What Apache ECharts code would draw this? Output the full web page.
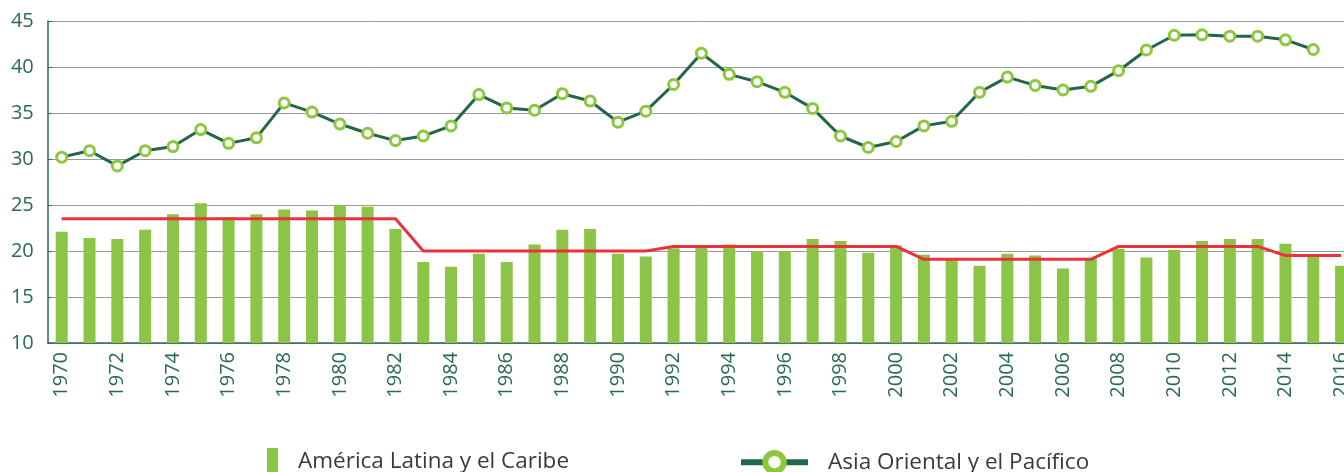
<!DOCTYPE html>
<html>
<head>
<meta charset="utf-8">
<script src="https://cdn.jsdelivr.net/npm/echarts@6/dist/echarts.min.js"></script>
<style>
  html, body { margin: 0; padding: 0; background: #fff; overflow: hidden; }
  /* a bit wider than the window: the last band (2016) is cut at the right edge */
  #chart { width: 1355px; height: 472px; }
</style>
</head>
<body>
<div id="chart"></div>
<script>
  const years = [];
  for (let y = 1970; y <= 2016; y++) years.push(String(y));

  // América Latina y el Caribe (barras)
  const latamValues = [
    22.1, 21.4, 21.3, 22.3, 24.0, 25.2, 23.7, 24.0, 24.5, 24.4,
    25.0, 24.8, 22.4, 18.8, 18.3, 19.7, 18.8, 20.7, 22.3, 22.4,
    19.7, 19.4, 20.3, 20.5, 20.7, 20.0, 20.0, 21.3, 21.1, 19.8,
    20.6, 19.6, 19.2, 18.4, 19.7, 19.5, 18.1, 19.2, 20.25, 19.3,
    20.1, 21.1, 21.3, 21.3, 20.8, 19.4, 18.4
  ];
  // Asia Oriental y el Pacífico (línea)
  const asiaValues = [
    30.2, 30.9, 29.25, 30.9, 31.35, 33.2, 31.7, 32.3, 36.1, 35.1,
    33.8, 32.8, 32.0, 32.5, 33.6, 37.0, 35.55, 35.3, 37.1, 36.3,
    34.0, 35.2, 38.1, 41.5, 39.2, 38.4, 37.25, 35.5, 32.5, 31.25,
    31.9, 33.6, 34.1, 37.25, 38.9, 38.0, 37.5, 37.9, 39.6, 41.85,
    43.45, 43.5, 43.35, 43.35, 42.95, 41.9, null
  ];
  // promedio por período (línea roja)
  const periodAvg = [
    23.5, 23.5, 23.5, 23.5, 23.5, 23.5, 23.5, 23.5, 23.5, 23.5,
    23.5, 23.5, 23.5, 20.0, 20.0, 20.0, 20.0, 20.0, 20.0, 20.0,
    20.0, 20.0, 20.5, 20.5, 20.5, 20.5, 20.5, 20.5, 20.5, 20.5,
    20.5, 19.1, 19.1, 19.1, 19.1, 19.1, 19.1, 19.1, 20.5, 20.5,
    20.5, 20.5, 20.5, 20.5, 19.5, 19.5, 19.5
  ];

  const axisGreen = '#2a6b50';
  const font = 'Open Sans';

  const chart = echarts.init(document.getElementById('chart'));
  chart.setOption({
    animation: false,
    textStyle: { fontFamily: font },
    grid: { left: 47.8, right: 0, top: 21, bottom: 129, containLabel: false },
    legend: [
      {
        data: ['América Latina y el Caribe'],
        left: 262, top: 443,
        icon: 'rect', itemWidth: 11, itemHeight: 27,
        textStyle: { fontSize: 22.5, color: '#3a3a3a', fontFamily: font, padding: [0, 0, 0, 15] }
      },
      {
        data: ['Asia Oriental y el Pacífico'],
        left: 733, top: 445,
        itemWidth: 67, itemHeight: 23,
        lineStyle: { width: 6 },
        itemStyle: { borderWidth: 6 },
        textStyle: { fontSize: 22.5, color: '#3a3a3a', fontFamily: font, padding: [0, 0, 0, 15] }
      }
    ],
    xAxis: {
      type: 'category',
      data: years,
      boundaryGap: true,
      axisLine: { lineStyle: { color: axisGreen, width: 1.5 } },
      axisTick: { alignWithLabel: true, interval: 1, length: 5, lineStyle: { color: axisGreen, width: 1.5 } },
      axisLabel: { interval: 1, rotate: 90, margin: 9, fontSize: 20, color: axisGreen }
    },
    yAxis: {
      type: 'value',
      min: 10, max: 45, interval: 5,
      axisLine: { show: true, lineStyle: { color: axisGreen, width: 1.5 } },
      axisTick: { show: true, inside: true, length: 4, lineStyle: { color: axisGreen } },
      axisLabel: { fontSize: 20, color: axisGreen, margin: 14 },
      splitLine: { lineStyle: { color: '#9a9a9a', width: 1 } }
    },
    series: [
      {
        name: 'América Latina y el Caribe',
        type: 'bar',
        data: latamValues,
        barWidth: 12,
        itemStyle: { color: '#8cc447' }
      },
      {
        name: 'Promedio',
        type: 'line',
        data: periodAvg,
        symbol: 'none',
        lineStyle: { color: '#e8333a', width: 3 },
        z: 3
      },
      {
        name: 'Asia Oriental y el Pacífico',
        type: 'line',
        data: asiaValues,
        symbol: 'circle',
        symbolSize: 10,
        color: '#8dc63f',
        lineStyle: { color: '#22674a', width: 3 },
        itemStyle: { color: '#fff', borderColor: '#8dc63f', borderWidth: 3 },
        z: 4
      }
    ]
  });
</script>
</body>
</html>
